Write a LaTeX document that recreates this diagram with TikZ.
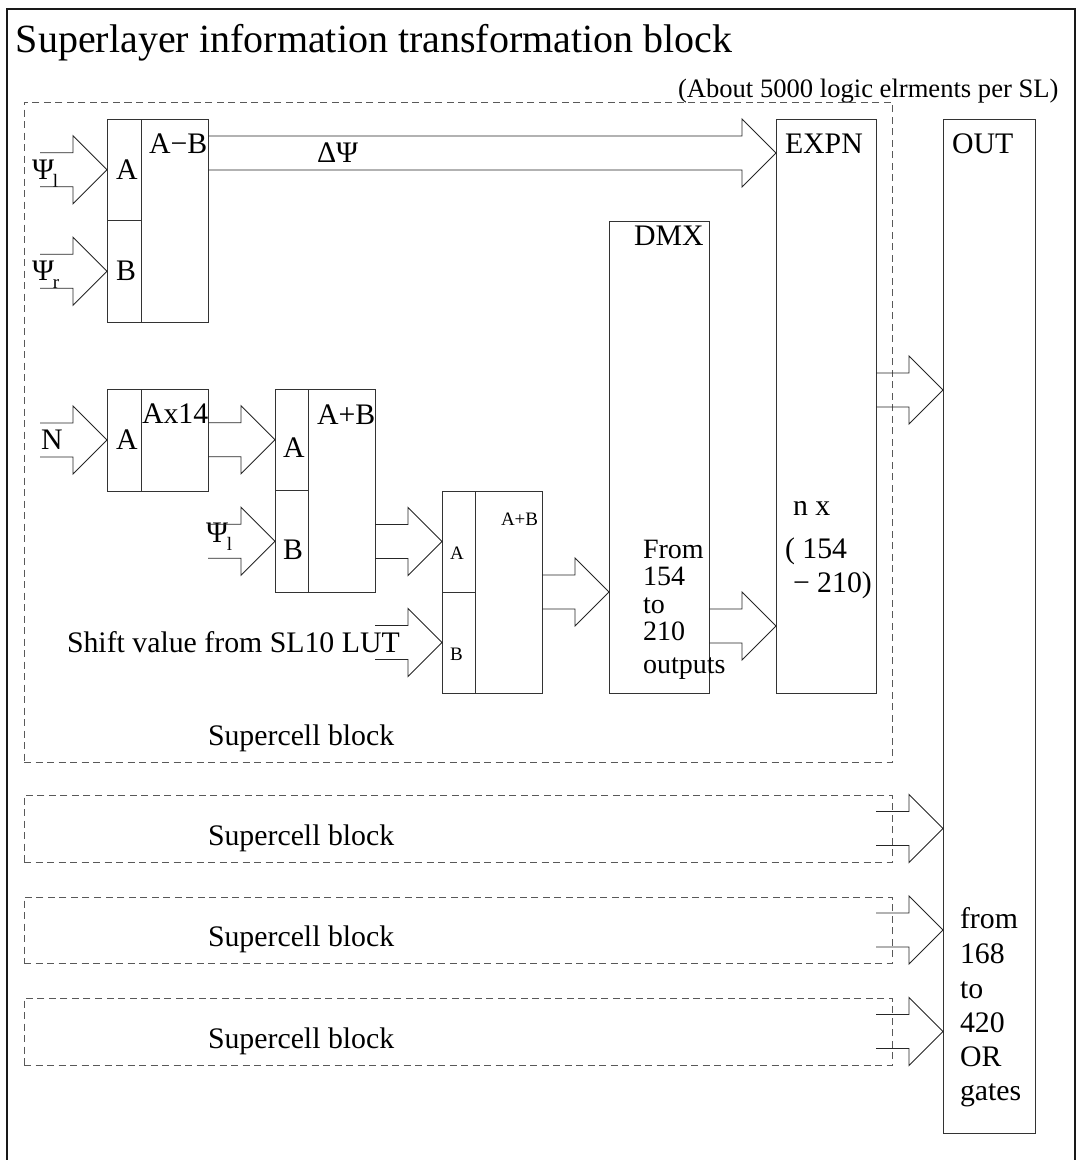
\documentclass[tikz,border=0pt]{standalone}
\usepackage{fontspec}
\setmainfont{Liberation Serif}
\usetikzlibrary{calc}
\tikzset{
  box/.style={draw=black!80, line width=1pt, inner sep=0pt, outer sep=0pt},
  dbox/.style={draw=black!65, line width=1pt, dash pattern=on 7pt off 4.5pt, inner sep=0pt, outer sep=0pt},
  divl/.style={draw=black!80, line width=1pt},
  barrow/.style={draw=black!85, line width=0.9pt, line join=miter},
  lbl/.style={anchor=base west, inner sep=0pt, outer sep=0pt, font=\fontsize{29.8}{29.8}\selectfont},
  slbl/.style={anchor=base west, inner sep=0pt, outer sep=0pt, font=\fontsize{19}{19}\selectfont},
  tlbl/.style={anchor=base west, inner sep=0pt, outer sep=0pt, font=\fontsize{40}{40}\selectfont},
  stlbl/.style={anchor=base west, inner sep=0pt, outer sep=0pt, font=\fontsize{26.6}{26.6}\selectfont},
}
\newcommand{\psisub}[1]{Ψ\kern-1pt\raisebox{-8pt}{\fontsize{19}{19}\selectfont #1}}
% hollow block arrow: shaft starts at x of #1, tip at #2
\newcommand{\hconn}[2]{%
  \draw[barrow] let \p1=(#1), \p2=(#2) in
    (\x1,\y2+17pt) -- (\x2-34pt,\y2+17pt) -- (\x2-34pt,\y2+34pt) -- (\p2)
    -- (\x2-34pt,\y2-34pt) -- (\x2-34pt,\y2-17pt) -- (\x1,\y2-17pt);}
\begin{document}
\begin{tikzpicture}[x=1pt,y=-1pt]
\useasboundingbox (0,0) rectangle (1078,1160);
% outer frame
\draw[black!90, line width=1.4pt] (7,1170) -- (7,9) -- (1075,9) -- (1075,1170);
\node[tlbl] (title) at (16,52) {Superlayer information transformation block};
\node[stlbl] (subt) at (678,97) {(About 5000 logic elrments per SL)};

% supercell blocks
\node[dbox, minimum width=868pt, minimum height=660pt] (sc1) at (458,432) {};
\node[dbox, minimum width=868pt, minimum height=67pt] (sc2) at (458,828.5) {};
\node[dbox, minimum width=868pt, minimum height=66pt] (sc3) at (458,930) {};
\node[dbox, minimum width=868pt, minimum height=67pt] (sc4) at (458,1031.5) {};
\node[lbl] (sc1l) at (208,745) {Supercell block};
\node[lbl] (sc2l) at (208,845) {Supercell block};
\node[lbl] (sc3l) at (208,946) {Supercell block};
\node[lbl] (sc4l) at (208,1048) {Supercell block};

% boxes
\node[box, minimum width=101pt, minimum height=203pt] (sub) at (157.5,220.5) {};
\node[box, minimum width=101pt, minimum height=102pt] (mul) at (157.5,440) {};
\node[box, minimum width=100pt, minimum height=203pt] (add1) at (325,490.5) {};
\node[box, minimum width=100pt, minimum height=202pt] (add2) at (492,592) {};
\node[box, minimum width=100pt, minimum height=472pt] (dmx) at (659,457) {};
\node[box, minimum width=100pt, minimum height=574pt] (expn) at (826,406) {};
\node[box, minimum width=92pt, minimum height=1014pt] (out) at (989,626) {};

% dividers
\draw[divl] ($(sub.north west)+(34,0)$) -- ($(sub.south west)+(34,0)$);
\draw[divl] (sub.west) -- ++(34,0);
\draw[divl] ($(mul.north west)+(34,0)$) -- ($(mul.south west)+(34,0)$);
\draw[divl] ($(add1.north west)+(33,0)$) -- ($(add1.south west)+(33,0)$);
\draw[divl] (add1.west) -- ++(33,0);
\draw[divl] ($(add2.north west)+(33,0)$) -- ($(add2.south west)+(33,0)$);
\draw[divl] (add2.west) -- ++(33,0);

% box labels
\node[lbl] (subA) at (116,179) {A};
\node[lbl] (subB) at (116,280) {B};
\node[lbl] (subAB) at (149,153) {A\char"2212 B};
\node[lbl] (mulA) at (116,449) {A};
\node[lbl] (mulL) at (142,423) {Ax14};
\node[lbl] (add1A) at (283,457) {A};
\node[lbl] (add1B) at (283,559) {B};
\node[lbl] (add1L) at (317,424) {A+B};
\node[slbl] (add2A) at (450,559) {A};
\node[slbl] (add2B) at (450,660) {B};
\node[slbl] (add2L) at (501,525) {A+B};
\node[lbl] (dmxL) at (634,245) {DMX};
\node[anchor=north west, inner sep=0pt, outer sep=0pt, align=left,
      font=\fontsize{28}{27.5}\selectfont] (dmxt) at (643,540)
      {From\\154\\to\\210\\[5pt]outputs};
\node[lbl] (expnL) at (785,153) {EXPN};
\node[lbl] (expn1) at (793,515) {n x};
\node[lbl] (expn2) at (785,558) {( 154};
\node[lbl] (expn3) at (793,592) {\char"2212\ 210)};
\node[lbl] (outL) at (952,153) {OUT};
\node[lbl] (out1) at (960,928) {from};
\node[lbl] (out2) at (960,963) {168};
\node[lbl] (out3) at (960,998) {to};
\node[lbl] (out4) at (960,1032) {420};
\node[lbl] (out5) at (960,1066) {OR};
\node[lbl] (out6) at (960,1100) {gates};

% input labels
\node[lbl] (psil) at (32,179) {\psisub{l}};
\node[lbl] (psir) at (32,280) {\psisub{r}};
\node[lbl] (nl) at (41,449) {N};
\node[lbl] (psil2) at (206,542) {\psisub{l}};
\node[lbl] (shiftl) at (67,652) {Shift value from SL10 LUT};
\node[lbl] (dpsi) at (317,162) {ΔΨ};

% free ends of input arrows
\coordinate (inPl) at (40,170);
\coordinate (inPr) at (40,271);
\coordinate (inN) at (40,440);
\coordinate (inPl2) at (208,542);
\coordinate (inSh) at (375,642);
\coordinate (o2) at (876,0);

% connectors
\hconn{inPl}{$(sub.north west)!0.25!(sub.south west)$}
\hconn{inPr}{$(sub.north west)!0.75!(sub.south west)$}
\hconn{inN}{mul.west}
\hconn{sub.east}{$(expn.north west)+(0,34)$}
\hconn{mul.east}{$(add1.north west)!0.25!(add1.south west)$}
\hconn{inPl2}{$(add1.north west)!0.75!(add1.south west)$}
\hconn{add1.east}{$(add2.north west)!0.25!(add2.south west)$}
\hconn{inSh}{$(add2.north west)!0.75!(add2.south west)$}
\hconn{add2.east}{dmx.west |- add2.east}
\hconn{dmx.east}{$(expn.west)+(0,220)$}
\hconn{expn.east}{$(out.north west)+(0,271)$}
\hconn{o2}{out.west |- sc2.east}
\hconn{o2}{out.west |- sc3.east}
\hconn{o2}{out.west |- sc4.east}
\end{tikzpicture}
\end{document}
